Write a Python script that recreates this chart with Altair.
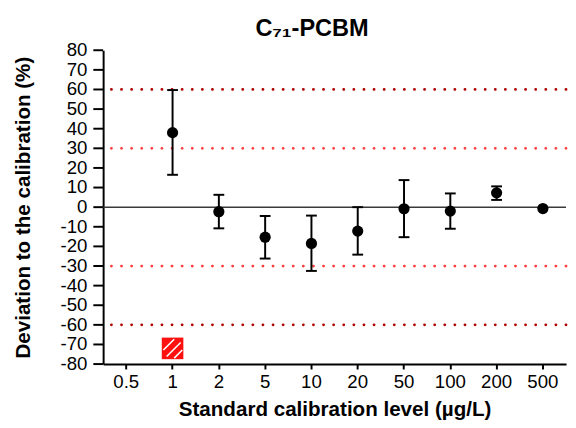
import altair as alt
import pandas as pd

levels = ["0.5", "1", "2", "5", "10", "20", "50", "100", "200", "500"]
means = [None, 38.0, -2.3, -15.3, -18.5, -12.2, -0.8, -2.0, 7.3, -0.7]
lows = [None, 16.5, -10.8, -26.2, -32.5, -24.2, -15.3, -11.0, 3.7, None]
highs = [None, 59.7, 6.3, -4.5, -4.3, 0.0, 13.8, 7.0, 10.6, None]

outer_limits = [60, -60]
inner_limits = [30, -30]
fail_levels = ["1"]
fail_values = [-72]
y_ticks = [-80, -70, -60, -50, -40, -30, -20, -10, 0, 10, 20, 30, 40, 50, 60, 70, 80]

FONT = "Liberation Sans"

df = pd.DataFrame({"level": levels, "mean": means, "low": lows, "high": highs})
err = df.dropna(subset=["low"])
pts = df.dropna(subset=["mean"])
outer_df = pd.DataFrame({"y": outer_limits})
inner_df = pd.DataFrame({"y": inner_limits})
fail_df = pd.DataFrame({"level": fail_levels, "value": fail_values})
ytick_df = pd.DataFrame({"v": y_ticks, "label": [str(v) for v in y_ticks]})

xscale = alt.Scale(type="band", domain=levels, paddingInner=0, paddingOuter=0)
yscale = alt.Scale(domain=[-80, 80], nice=False, zero=False)

x_axis = alt.Axis(
    title="Standard calibration level (µg/L)",
    labelAngle=0,
    tickSize=5,
    labelPadding=4,
    titlePadding=7,
    grid=False,
    labelFontSize=19,
    titleFontSize=21,
)

# y axis: domain line + title from the axis; ticks and labels drawn from y_ticks
y_axis = alt.Axis(
    title="Deviation to the calibration (%)",
    ticks=False,
    labels=False,
    titlePadding=71,
    grid=False,
    titleFontSize=21,
)


def X():
    return alt.X("level:N", scale=xscale, sort=levels, axis=x_axis)


def Y(field):
    return alt.Y(field, scale=yscale, axis=y_axis)


zero = alt.Chart(pd.DataFrame({"y": [0]})).mark_rule(
    color="#3a3a3a", strokeWidth=1.6
).encode(y=Y("y:Q"))

ytick_marks = alt.Chart(ytick_df).mark_tick(
    color="black", thickness=2, size=10, orient="horizontal", opacity=1
).encode(x=alt.value(-5), y=Y("v:Q"))

ytick_labels = alt.Chart(ytick_df).mark_text(
    align="right", baseline="middle", font=FONT, fontSize=19, color="black"
).encode(x=alt.value(-16), y=Y("v:Q"), text="label:N")

outer = alt.Chart(outer_df).mark_rule(
    color="#b00000", strokeWidth=2.8, strokeDash=[0.1, 10.2], strokeCap="round"
).encode(y=Y("y:Q"))

inner = alt.Chart(inner_df).mark_rule(
    color="#ff3c3c", strokeWidth=2.8, strokeDash=[0.1, 10.2], strokeCap="round"
).encode(y=Y("y:Q"))

bars = alt.Chart(err).mark_rule(color="black", strokeWidth=2).encode(
    x=X(),
    y=Y("low:Q"),
    y2="high:Q",
)

cap_lo = alt.Chart(err).mark_tick(
    color="black", thickness=2, size=11, orient="horizontal", opacity=1
).encode(x=X(), y=Y("low:Q"))

cap_hi = alt.Chart(err).mark_tick(
    color="black", thickness=2, size=11, orient="horizontal", opacity=1
).encode(x=X(), y=Y("high:Q"))

points = alt.Chart(pts).mark_circle(color="black", size=130, opacity=1).encode(
    x=X(), y=Y("mean:Q")
)

fail_sq = alt.Chart(fail_df).mark_square(
    color="#ff1010", size=484, opacity=1
).encode(x=X(), y=Y("value:Q"))

hatch_path = (
    "M-0.85,0.15L0.15,-0.85"
    "M-0.55,0.75L0.75,-0.55"
    "M0.15,0.9L0.9,0.15"
)
fail_hatch = alt.Chart(fail_df).mark_point(
    shape=hatch_path, size=484, stroke="white", strokeWidth=1.6, filled=False, opacity=1
).encode(x=X(), y=Y("value:Q"))

chart = alt.layer(
    zero, ytick_marks, ytick_labels, outer, inner, bars, cap_lo, cap_hi,
    points, fail_sq, fail_hatch
).properties(
    width=472,
    height=320,
    title=alt.Title(
        "C₇₁-PCBM",
        fontSize=24,
        fontWeight="bold",
        font=FONT,
        color="black",
        anchor="middle",
        dx=-23,
        offset=1,
    ),
    padding={"left": 5, "right": 0, "top": 5, "bottom": 0},
).configure_view(
    stroke=None
).configure_axis(
    labelFont=FONT,
    titleFont=FONT,
    titleFontWeight="bold",
    labelColor="black",
    titleColor="black",
    domainColor="black",
    tickColor="black",
    domainWidth=2,
    tickWidth=2,
)

chart.save("out.html", embed_options={"renderer": "svg", "actions": False})
